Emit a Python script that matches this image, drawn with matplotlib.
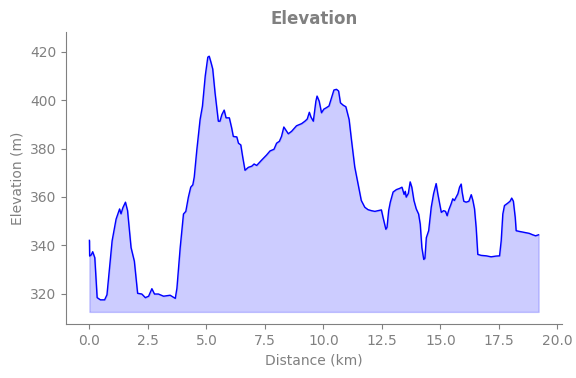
import matplotlib
matplotlib.use('Agg')
import matplotlib.pyplot as plt

# Profilo altimetrico (km, m)
distanza = [0.0, 0.01, 0.08, 0.14, 0.23, 0.33, 0.47, 0.65, 0.75, 0.97, 1.14, 1.29, 1.35, 1.43, 1.54,
            1.63, 1.78, 1.92, 2.06, 2.24, 2.39, 2.53, 2.67, 2.78, 2.95, 3.17, 3.45, 3.67, 3.74, 3.88,
            4.02, 4.12, 4.23, 4.33, 4.42, 4.48, 4.59, 4.73, 4.83, 4.95, 5.06, 5.12, 5.2, 5.27, 5.37,
            5.51, 5.58, 5.66, 5.76, 5.84, 5.98, 6.08, 6.15, 6.3, 6.37, 6.47, 6.55, 6.65, 6.79, 6.94,
            7.04, 7.15, 7.36, 7.57, 7.72, 7.89, 8.0, 8.12, 8.21, 8.31, 8.5, 8.64, 8.85, 9.07, 9.21,
            9.31, 9.4, 9.47, 9.57, 9.68, 9.73, 9.82, 9.92, 10.02, 10.13, 10.24, 10.35, 10.45, 10.56,
            10.65, 10.73, 10.85, 10.96, 11.1, 11.2, 11.34, 11.48, 11.62, 11.77, 11.91, 12.05, 12.2,
            12.34, 12.48, 12.55, 12.67, 12.72, 12.79, 12.86, 12.98, 13.12, 13.26, 13.36, 13.45, 13.5,
            13.54, 13.63, 13.71, 13.78, 13.87, 13.97, 14.07, 14.14, 14.21, 14.29, 14.34, 14.4, 14.5,
            14.61, 14.71, 14.82, 14.89, 14.97, 15.04, 15.14, 15.22, 15.29, 15.36, 15.46, 15.53, 15.6,
            15.68, 15.75, 15.82, 15.89, 15.93, 16.0, 16.1, 16.22, 16.32, 16.39, 16.46, 16.53, 16.6,
            16.74, 16.96, 17.17, 17.38, 17.53, 17.6, 17.67, 17.74, 17.88, 17.98, 18.05, 18.12, 18.2,
            18.24, 18.38, 18.59, 18.8, 18.95, 19.07, 19.2]
quota = [342.0, 335.5, 336.0, 337.3, 334.8, 318.3, 317.4, 317.4, 319.5, 341.8, 350.8, 355.0, 353.0, 355.5, 357.8,
         354.3, 339.0, 333.4, 320.1, 319.8, 318.3, 318.9, 322.0, 319.8, 319.8, 318.9, 319.3, 318.0, 322.2, 339.0,
         352.9, 354.0, 359.9, 364.0, 365.0, 368.2, 379.4, 392.0, 397.5, 410.0, 417.8, 418.2, 415.5, 412.9, 403.0,
         391.3, 391.3, 394.0, 395.9, 392.7, 392.7, 388.5, 385.0, 384.8, 382.2, 381.5, 376.6, 371.0, 372.2, 372.7,
         373.6, 373.0, 375.2, 377.3, 379.0, 379.7, 382.2, 383.0, 385.0, 388.9, 386.1, 387.1, 389.4, 390.3, 391.3,
         392.2, 395.0, 393.0, 391.3, 399.6, 401.7, 399.6, 394.8, 396.3, 396.9, 397.6, 401.0, 404.2, 404.5,
         403.8, 398.9, 397.9, 397.3, 392.0, 383.6, 372.4, 365.5, 358.5, 355.7, 354.7, 354.3, 354.0,
         354.3, 354.6, 351.5, 346.6, 347.4, 354.3, 357.8, 362.0, 363.0, 363.5, 364.0, 361.0, 362.3,
         359.9, 361.4, 366.2, 364.0, 358.5, 355.0, 352.9, 348.7, 339.0, 334.1, 334.6, 343.1, 346.0,
         355.7, 361.3, 365.5, 361.3, 357.1, 353.6, 354.3, 354.0, 352.2, 354.6, 357.1, 359.2, 358.5,
         360.0, 361.3, 364.0, 365.3, 362.0, 358.2, 357.8, 358.2, 360.9, 358.5, 355.0, 347.3, 336.2,
         335.8, 335.6, 335.2, 335.5, 335.6, 341.8, 352.9, 356.4, 357.4, 358.2, 359.5, 358.2, 351.5,
         346.0, 345.7, 345.3, 344.9, 344.3, 343.9, 344.3]

grigio = 'gray'

fig, ax = plt.subplots(figsize=(5.76, 3.78), dpi=100)
fig.subplots_adjust(left=0.1146, right=0.9757, bottom=0.1429, top=0.9153)

base = min(quota) - 5
ax.fill_between(distanza, quota, base, color='blue', alpha=0.2)
ax.plot(distanza, quota, color='blue', linewidth=1)

ax.set_xlim(min(distanza) - 1, max(distanza) + 1)
ax.set_ylim(min(quota) - 10, max(quota) + 10)

ax.set_title('Elevation', color=grigio, fontweight='bold', fontsize=12)
ax.set_xlabel('Distance (km)', color=grigio)
ax.set_ylabel('Elevation (m)', color=grigio)

for lato in ['top', 'right']:
    ax.spines[lato].set_visible(False)
for lato in ['left', 'bottom']:
    ax.spines[lato].set_color(grigio)
ax.tick_params(colors=grigio)

plt.savefig('out.png', dpi=100)
